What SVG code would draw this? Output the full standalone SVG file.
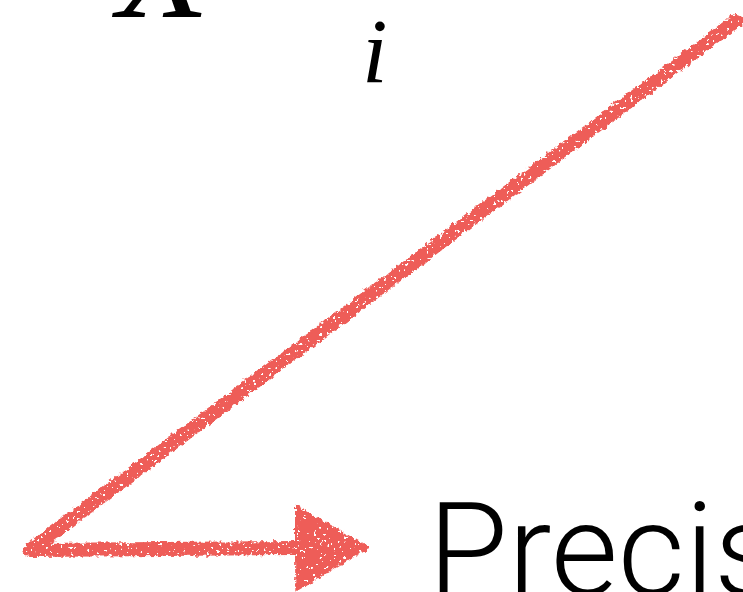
<svg xmlns="http://www.w3.org/2000/svg" width="743" height="592" viewBox="0 0 743 592">
  <defs>
    <style>
      .math { font-family: "Liberation Serif", "DejaVu Serif", serif; font-style: italic; fill: #000; }
      .label { font-family: "Roboto", "Liberation Sans", sans-serif; font-weight: 300; fill: #000; }
      .crayon { fill: none; stroke: #EE5D58; stroke-width: 14; stroke-linecap: round; stroke-linejoin: round; }
    </style>
    <marker id="head" markerUnits="userSpaceOnUse" markerWidth="80" markerHeight="92" viewBox="0 -46 80 92" refX="5" refY="0" orient="auto">
      <path d="M0,-44 L75,0 L0,44 Z" fill="#EE5D58"/>
    </marker>
    <filter id="rough" filterUnits="userSpaceOnUse" x="0" y="0" width="743" height="592">
      <feTurbulence type="fractalNoise" baseFrequency="0.22" numOctaves="3" seed="3" result="n"/>
      <feDisplacementMap in="SourceGraphic" in2="n" scale="6" xChannelSelector="R" yChannelSelector="G" result="d"/>
      <feTurbulence type="fractalNoise" baseFrequency="0.3" numOctaves="2" seed="11" result="n2"/>
      <feColorMatrix in="n2" type="matrix" values="0 0 0 0 0  0 0 0 0 0  0 0 0 0 0  -30 0 0 0 21.5" result="holes"/>
      <feComposite in="d" in2="holes" operator="in"/>
    </filter>
  </defs>
  <rect width="743" height="592" fill="#fff"/>
  <g id="node-X">
    <text class="math" x="117" y="17" font-size="152">X</text>
  </g>
  <g id="node-i">
    <text class="math" x="362" y="82" font-size="92">i</text>
  </g>
  <g id="node-precision">
    <text class="label" x="428" y="595" font-size="130">Precis</text>
  </g>
  <g id="connectors" filter="url(#rough)">
    <path class="crayon" d="M736,21 L30,550 L300,548" marker-end="url(#head)"/>
  </g>
</svg>
